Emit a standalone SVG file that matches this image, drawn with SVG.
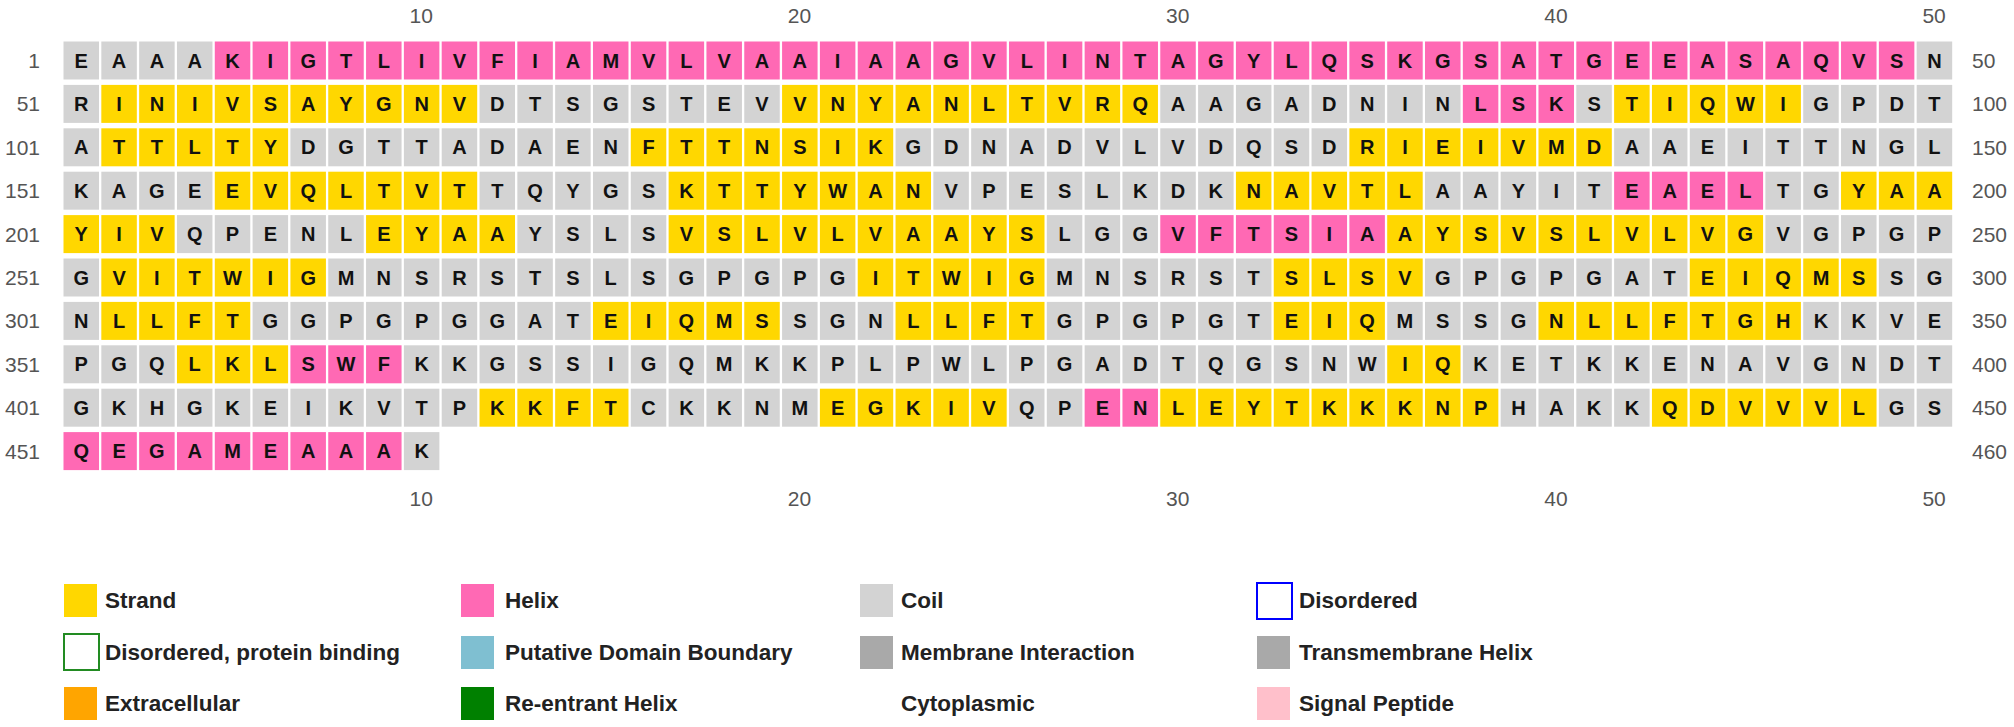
<svg xmlns="http://www.w3.org/2000/svg" width="2014" height="727" viewBox="0 0 2014 727">
<style>
.k text{font-family:"Liberation Sans",Arial,sans-serif;font-weight:bold;font-size:20px;text-anchor:middle;fill:#111}
.s rect{fill:#FFD700}
.h rect{fill:#FF69B4}
.c rect{fill:#D3D3D3}
.num{font-family:"Liberation Sans",Arial,sans-serif;font-size:21px;fill:#555}
.ax{text-anchor:middle}
.rl{text-anchor:end}
.lg{font-family:"Liberation Sans",Arial,sans-serif;font-weight:bold;font-size:22.5px;fill:#222}
</style>
<rect width="2014" height="727" fill="#fff"/>
<g id="top-axis" class="num ax">
<text x="421.3" y="23">10</text><text x="799.5" y="23">20</text><text x="1177.7" y="23">30</text><text x="1555.9" y="23">40</text><text x="1934.1" y="23">50</text>
</g>
<g id="bottom-axis" class="num ax">
<text x="421.3" y="506">10</text><text x="799.5" y="506">20</text><text x="1177.7" y="506">30</text><text x="1555.9" y="506">40</text><text x="1934.1" y="506">50</text>
</g>
<g id="row-labels-left" class="num rl">
<text x="40" y="68">1</text><text x="40" y="111.4">51</text><text x="40" y="154.8">101</text><text x="40" y="198.2">151</text><text x="40" y="241.6">201</text><text x="40" y="285">251</text><text x="40" y="328.4">301</text><text x="40" y="371.8">351</text><text x="40" y="415.2">401</text><text x="40" y="458.6">451</text>
</g>
<g id="row-labels-right" class="num">
<text x="1972" y="68">50</text><text x="1972" y="111.4">100</text><text x="1972" y="154.8">150</text><text x="1972" y="198.2">200</text><text x="1972" y="241.6">250</text><text x="1972" y="285">300</text><text x="1972" y="328.4">350</text><text x="1972" y="371.8">400</text><text x="1972" y="415.2">450</text><text x="1972" y="458.6">460</text>
</g>
<g id="connectors"></g>
<g id="row1" class="k" transform="translate(0,41.5)">
<g id="aa1" class="c" transform="translate(63.5)"><rect width="35.5" height="38"/><text x="17.75" y="26">E</text></g>
<g id="aa2" class="c" transform="translate(101.32)"><rect width="35.5" height="38"/><text x="17.75" y="26">A</text></g>
<g id="aa3" class="c" transform="translate(139.14)"><rect width="35.5" height="38"/><text x="17.75" y="26">A</text></g>
<g id="aa4" class="c" transform="translate(176.96)"><rect width="35.5" height="38"/><text x="17.75" y="26">A</text></g>
<g id="aa5" class="h" transform="translate(214.78)"><rect width="35.5" height="38"/><text x="17.75" y="26">K</text></g>
<g id="aa6" class="h" transform="translate(252.6)"><rect width="35.5" height="38"/><text x="17.75" y="26">I</text></g>
<g id="aa7" class="h" transform="translate(290.42)"><rect width="35.5" height="38"/><text x="17.75" y="26">G</text></g>
<g id="aa8" class="h" transform="translate(328.24)"><rect width="35.5" height="38"/><text x="17.75" y="26">T</text></g>
<g id="aa9" class="h" transform="translate(366.06)"><rect width="35.5" height="38"/><text x="17.75" y="26">L</text></g>
<g id="aa10" class="h" transform="translate(403.88)"><rect width="35.5" height="38"/><text x="17.75" y="26">I</text></g>
<g id="aa11" class="h" transform="translate(441.7)"><rect width="35.5" height="38"/><text x="17.75" y="26">V</text></g>
<g id="aa12" class="h" transform="translate(479.52)"><rect width="35.5" height="38"/><text x="17.75" y="26">F</text></g>
<g id="aa13" class="h" transform="translate(517.34)"><rect width="35.5" height="38"/><text x="17.75" y="26">I</text></g>
<g id="aa14" class="h" transform="translate(555.16)"><rect width="35.5" height="38"/><text x="17.75" y="26">A</text></g>
<g id="aa15" class="h" transform="translate(592.98)"><rect width="35.5" height="38"/><text x="17.75" y="26">M</text></g>
<g id="aa16" class="h" transform="translate(630.8)"><rect width="35.5" height="38"/><text x="17.75" y="26">V</text></g>
<g id="aa17" class="h" transform="translate(668.62)"><rect width="35.5" height="38"/><text x="17.75" y="26">L</text></g>
<g id="aa18" class="h" transform="translate(706.44)"><rect width="35.5" height="38"/><text x="17.75" y="26">V</text></g>
<g id="aa19" class="h" transform="translate(744.26)"><rect width="35.5" height="38"/><text x="17.75" y="26">A</text></g>
<g id="aa20" class="h" transform="translate(782.08)"><rect width="35.5" height="38"/><text x="17.75" y="26">A</text></g>
<g id="aa21" class="h" transform="translate(819.9)"><rect width="35.5" height="38"/><text x="17.75" y="26">I</text></g>
<g id="aa22" class="h" transform="translate(857.72)"><rect width="35.5" height="38"/><text x="17.75" y="26">A</text></g>
<g id="aa23" class="h" transform="translate(895.54)"><rect width="35.5" height="38"/><text x="17.75" y="26">A</text></g>
<g id="aa24" class="h" transform="translate(933.36)"><rect width="35.5" height="38"/><text x="17.75" y="26">G</text></g>
<g id="aa25" class="h" transform="translate(971.18)"><rect width="35.5" height="38"/><text x="17.75" y="26">V</text></g>
<g id="aa26" class="h" transform="translate(1009)"><rect width="35.5" height="38"/><text x="17.75" y="26">L</text></g>
<g id="aa27" class="h" transform="translate(1046.82)"><rect width="35.5" height="38"/><text x="17.75" y="26">I</text></g>
<g id="aa28" class="h" transform="translate(1084.64)"><rect width="35.5" height="38"/><text x="17.75" y="26">N</text></g>
<g id="aa29" class="h" transform="translate(1122.46)"><rect width="35.5" height="38"/><text x="17.75" y="26">T</text></g>
<g id="aa30" class="h" transform="translate(1160.28)"><rect width="35.5" height="38"/><text x="17.75" y="26">A</text></g>
<g id="aa31" class="h" transform="translate(1198.1)"><rect width="35.5" height="38"/><text x="17.75" y="26">G</text></g>
<g id="aa32" class="h" transform="translate(1235.92)"><rect width="35.5" height="38"/><text x="17.75" y="26">Y</text></g>
<g id="aa33" class="h" transform="translate(1273.74)"><rect width="35.5" height="38"/><text x="17.75" y="26">L</text></g>
<g id="aa34" class="h" transform="translate(1311.56)"><rect width="35.5" height="38"/><text x="17.75" y="26">Q</text></g>
<g id="aa35" class="h" transform="translate(1349.38)"><rect width="35.5" height="38"/><text x="17.75" y="26">S</text></g>
<g id="aa36" class="h" transform="translate(1387.2)"><rect width="35.5" height="38"/><text x="17.75" y="26">K</text></g>
<g id="aa37" class="h" transform="translate(1425.02)"><rect width="35.5" height="38"/><text x="17.75" y="26">G</text></g>
<g id="aa38" class="h" transform="translate(1462.84)"><rect width="35.5" height="38"/><text x="17.75" y="26">S</text></g>
<g id="aa39" class="h" transform="translate(1500.66)"><rect width="35.5" height="38"/><text x="17.75" y="26">A</text></g>
<g id="aa40" class="h" transform="translate(1538.48)"><rect width="35.5" height="38"/><text x="17.75" y="26">T</text></g>
<g id="aa41" class="h" transform="translate(1576.3)"><rect width="35.5" height="38"/><text x="17.75" y="26">G</text></g>
<g id="aa42" class="h" transform="translate(1614.12)"><rect width="35.5" height="38"/><text x="17.75" y="26">E</text></g>
<g id="aa43" class="h" transform="translate(1651.94)"><rect width="35.5" height="38"/><text x="17.75" y="26">E</text></g>
<g id="aa44" class="h" transform="translate(1689.76)"><rect width="35.5" height="38"/><text x="17.75" y="26">A</text></g>
<g id="aa45" class="h" transform="translate(1727.58)"><rect width="35.5" height="38"/><text x="17.75" y="26">S</text></g>
<g id="aa46" class="h" transform="translate(1765.4)"><rect width="35.5" height="38"/><text x="17.75" y="26">A</text></g>
<g id="aa47" class="h" transform="translate(1803.22)"><rect width="35.5" height="38"/><text x="17.75" y="26">Q</text></g>
<g id="aa48" class="h" transform="translate(1841.04)"><rect width="35.5" height="38"/><text x="17.75" y="26">V</text></g>
<g id="aa49" class="h" transform="translate(1878.86)"><rect width="35.5" height="38"/><text x="17.75" y="26">S</text></g>
<g id="aa50" class="c" transform="translate(1916.68)"><rect width="35.5" height="38"/><text x="17.75" y="26">N</text></g>
</g>
<g id="row2" class="k" transform="translate(0,84.9)">
<g id="aa51" class="c" transform="translate(63.5)"><rect width="35.5" height="38"/><text x="17.75" y="26">R</text></g>
<g id="aa52" class="s" transform="translate(101.32)"><rect width="35.5" height="38"/><text x="17.75" y="26">I</text></g>
<g id="aa53" class="s" transform="translate(139.14)"><rect width="35.5" height="38"/><text x="17.75" y="26">N</text></g>
<g id="aa54" class="s" transform="translate(176.96)"><rect width="35.5" height="38"/><text x="17.75" y="26">I</text></g>
<g id="aa55" class="s" transform="translate(214.78)"><rect width="35.5" height="38"/><text x="17.75" y="26">V</text></g>
<g id="aa56" class="s" transform="translate(252.6)"><rect width="35.5" height="38"/><text x="17.75" y="26">S</text></g>
<g id="aa57" class="s" transform="translate(290.42)"><rect width="35.5" height="38"/><text x="17.75" y="26">A</text></g>
<g id="aa58" class="s" transform="translate(328.24)"><rect width="35.5" height="38"/><text x="17.75" y="26">Y</text></g>
<g id="aa59" class="s" transform="translate(366.06)"><rect width="35.5" height="38"/><text x="17.75" y="26">G</text></g>
<g id="aa60" class="s" transform="translate(403.88)"><rect width="35.5" height="38"/><text x="17.75" y="26">N</text></g>
<g id="aa61" class="s" transform="translate(441.7)"><rect width="35.5" height="38"/><text x="17.75" y="26">V</text></g>
<g id="aa62" class="c" transform="translate(479.52)"><rect width="35.5" height="38"/><text x="17.75" y="26">D</text></g>
<g id="aa63" class="c" transform="translate(517.34)"><rect width="35.5" height="38"/><text x="17.75" y="26">T</text></g>
<g id="aa64" class="c" transform="translate(555.16)"><rect width="35.5" height="38"/><text x="17.75" y="26">S</text></g>
<g id="aa65" class="c" transform="translate(592.98)"><rect width="35.5" height="38"/><text x="17.75" y="26">G</text></g>
<g id="aa66" class="c" transform="translate(630.8)"><rect width="35.5" height="38"/><text x="17.75" y="26">S</text></g>
<g id="aa67" class="c" transform="translate(668.62)"><rect width="35.5" height="38"/><text x="17.75" y="26">T</text></g>
<g id="aa68" class="c" transform="translate(706.44)"><rect width="35.5" height="38"/><text x="17.75" y="26">E</text></g>
<g id="aa69" class="c" transform="translate(744.26)"><rect width="35.5" height="38"/><text x="17.75" y="26">V</text></g>
<g id="aa70" class="s" transform="translate(782.08)"><rect width="35.5" height="38"/><text x="17.75" y="26">V</text></g>
<g id="aa71" class="s" transform="translate(819.9)"><rect width="35.5" height="38"/><text x="17.75" y="26">N</text></g>
<g id="aa72" class="s" transform="translate(857.72)"><rect width="35.5" height="38"/><text x="17.75" y="26">Y</text></g>
<g id="aa73" class="s" transform="translate(895.54)"><rect width="35.5" height="38"/><text x="17.75" y="26">A</text></g>
<g id="aa74" class="s" transform="translate(933.36)"><rect width="35.5" height="38"/><text x="17.75" y="26">N</text></g>
<g id="aa75" class="s" transform="translate(971.18)"><rect width="35.5" height="38"/><text x="17.75" y="26">L</text></g>
<g id="aa76" class="s" transform="translate(1009)"><rect width="35.5" height="38"/><text x="17.75" y="26">T</text></g>
<g id="aa77" class="s" transform="translate(1046.82)"><rect width="35.5" height="38"/><text x="17.75" y="26">V</text></g>
<g id="aa78" class="s" transform="translate(1084.64)"><rect width="35.5" height="38"/><text x="17.75" y="26">R</text></g>
<g id="aa79" class="s" transform="translate(1122.46)"><rect width="35.5" height="38"/><text x="17.75" y="26">Q</text></g>
<g id="aa80" class="c" transform="translate(1160.28)"><rect width="35.5" height="38"/><text x="17.75" y="26">A</text></g>
<g id="aa81" class="c" transform="translate(1198.1)"><rect width="35.5" height="38"/><text x="17.75" y="26">A</text></g>
<g id="aa82" class="c" transform="translate(1235.92)"><rect width="35.5" height="38"/><text x="17.75" y="26">G</text></g>
<g id="aa83" class="c" transform="translate(1273.74)"><rect width="35.5" height="38"/><text x="17.75" y="26">A</text></g>
<g id="aa84" class="c" transform="translate(1311.56)"><rect width="35.5" height="38"/><text x="17.75" y="26">D</text></g>
<g id="aa85" class="c" transform="translate(1349.38)"><rect width="35.5" height="38"/><text x="17.75" y="26">N</text></g>
<g id="aa86" class="c" transform="translate(1387.2)"><rect width="35.5" height="38"/><text x="17.75" y="26">I</text></g>
<g id="aa87" class="c" transform="translate(1425.02)"><rect width="35.5" height="38"/><text x="17.75" y="26">N</text></g>
<g id="aa88" class="h" transform="translate(1462.84)"><rect width="35.5" height="38"/><text x="17.75" y="26">L</text></g>
<g id="aa89" class="h" transform="translate(1500.66)"><rect width="35.5" height="38"/><text x="17.75" y="26">S</text></g>
<g id="aa90" class="h" transform="translate(1538.48)"><rect width="35.5" height="38"/><text x="17.75" y="26">K</text></g>
<g id="aa91" class="c" transform="translate(1576.3)"><rect width="35.5" height="38"/><text x="17.75" y="26">S</text></g>
<g id="aa92" class="s" transform="translate(1614.12)"><rect width="35.5" height="38"/><text x="17.75" y="26">T</text></g>
<g id="aa93" class="s" transform="translate(1651.94)"><rect width="35.5" height="38"/><text x="17.75" y="26">I</text></g>
<g id="aa94" class="s" transform="translate(1689.76)"><rect width="35.5" height="38"/><text x="17.75" y="26">Q</text></g>
<g id="aa95" class="s" transform="translate(1727.58)"><rect width="35.5" height="38"/><text x="17.75" y="26">W</text></g>
<g id="aa96" class="s" transform="translate(1765.4)"><rect width="35.5" height="38"/><text x="17.75" y="26">I</text></g>
<g id="aa97" class="c" transform="translate(1803.22)"><rect width="35.5" height="38"/><text x="17.75" y="26">G</text></g>
<g id="aa98" class="c" transform="translate(1841.04)"><rect width="35.5" height="38"/><text x="17.75" y="26">P</text></g>
<g id="aa99" class="c" transform="translate(1878.86)"><rect width="35.5" height="38"/><text x="17.75" y="26">D</text></g>
<g id="aa100" class="c" transform="translate(1916.68)"><rect width="35.5" height="38"/><text x="17.75" y="26">T</text></g>
</g>
<g id="row3" class="k" transform="translate(0,128.3)">
<g id="aa101" class="c" transform="translate(63.5)"><rect width="35.5" height="38"/><text x="17.75" y="26">A</text></g>
<g id="aa102" class="s" transform="translate(101.32)"><rect width="35.5" height="38"/><text x="17.75" y="26">T</text></g>
<g id="aa103" class="s" transform="translate(139.14)"><rect width="35.5" height="38"/><text x="17.75" y="26">T</text></g>
<g id="aa104" class="s" transform="translate(176.96)"><rect width="35.5" height="38"/><text x="17.75" y="26">L</text></g>
<g id="aa105" class="s" transform="translate(214.78)"><rect width="35.5" height="38"/><text x="17.75" y="26">T</text></g>
<g id="aa106" class="s" transform="translate(252.6)"><rect width="35.5" height="38"/><text x="17.75" y="26">Y</text></g>
<g id="aa107" class="c" transform="translate(290.42)"><rect width="35.5" height="38"/><text x="17.75" y="26">D</text></g>
<g id="aa108" class="c" transform="translate(328.24)"><rect width="35.5" height="38"/><text x="17.75" y="26">G</text></g>
<g id="aa109" class="c" transform="translate(366.06)"><rect width="35.5" height="38"/><text x="17.75" y="26">T</text></g>
<g id="aa110" class="c" transform="translate(403.88)"><rect width="35.5" height="38"/><text x="17.75" y="26">T</text></g>
<g id="aa111" class="c" transform="translate(441.7)"><rect width="35.5" height="38"/><text x="17.75" y="26">A</text></g>
<g id="aa112" class="c" transform="translate(479.52)"><rect width="35.5" height="38"/><text x="17.75" y="26">D</text></g>
<g id="aa113" class="c" transform="translate(517.34)"><rect width="35.5" height="38"/><text x="17.75" y="26">A</text></g>
<g id="aa114" class="c" transform="translate(555.16)"><rect width="35.5" height="38"/><text x="17.75" y="26">E</text></g>
<g id="aa115" class="c" transform="translate(592.98)"><rect width="35.5" height="38"/><text x="17.75" y="26">N</text></g>
<g id="aa116" class="s" transform="translate(630.8)"><rect width="35.5" height="38"/><text x="17.75" y="26">F</text></g>
<g id="aa117" class="s" transform="translate(668.62)"><rect width="35.5" height="38"/><text x="17.75" y="26">T</text></g>
<g id="aa118" class="s" transform="translate(706.44)"><rect width="35.5" height="38"/><text x="17.75" y="26">T</text></g>
<g id="aa119" class="s" transform="translate(744.26)"><rect width="35.5" height="38"/><text x="17.75" y="26">N</text></g>
<g id="aa120" class="s" transform="translate(782.08)"><rect width="35.5" height="38"/><text x="17.75" y="26">S</text></g>
<g id="aa121" class="s" transform="translate(819.9)"><rect width="35.5" height="38"/><text x="17.75" y="26">I</text></g>
<g id="aa122" class="s" transform="translate(857.72)"><rect width="35.5" height="38"/><text x="17.75" y="26">K</text></g>
<g id="aa123" class="c" transform="translate(895.54)"><rect width="35.5" height="38"/><text x="17.75" y="26">G</text></g>
<g id="aa124" class="c" transform="translate(933.36)"><rect width="35.5" height="38"/><text x="17.75" y="26">D</text></g>
<g id="aa125" class="c" transform="translate(971.18)"><rect width="35.5" height="38"/><text x="17.75" y="26">N</text></g>
<g id="aa126" class="c" transform="translate(1009)"><rect width="35.5" height="38"/><text x="17.75" y="26">A</text></g>
<g id="aa127" class="c" transform="translate(1046.82)"><rect width="35.5" height="38"/><text x="17.75" y="26">D</text></g>
<g id="aa128" class="c" transform="translate(1084.64)"><rect width="35.5" height="38"/><text x="17.75" y="26">V</text></g>
<g id="aa129" class="c" transform="translate(1122.46)"><rect width="35.5" height="38"/><text x="17.75" y="26">L</text></g>
<g id="aa130" class="c" transform="translate(1160.28)"><rect width="35.5" height="38"/><text x="17.75" y="26">V</text></g>
<g id="aa131" class="c" transform="translate(1198.1)"><rect width="35.5" height="38"/><text x="17.75" y="26">D</text></g>
<g id="aa132" class="c" transform="translate(1235.92)"><rect width="35.5" height="38"/><text x="17.75" y="26">Q</text></g>
<g id="aa133" class="c" transform="translate(1273.74)"><rect width="35.5" height="38"/><text x="17.75" y="26">S</text></g>
<g id="aa134" class="c" transform="translate(1311.56)"><rect width="35.5" height="38"/><text x="17.75" y="26">D</text></g>
<g id="aa135" class="s" transform="translate(1349.38)"><rect width="35.5" height="38"/><text x="17.75" y="26">R</text></g>
<g id="aa136" class="s" transform="translate(1387.2)"><rect width="35.5" height="38"/><text x="17.75" y="26">I</text></g>
<g id="aa137" class="s" transform="translate(1425.02)"><rect width="35.5" height="38"/><text x="17.75" y="26">E</text></g>
<g id="aa138" class="s" transform="translate(1462.84)"><rect width="35.5" height="38"/><text x="17.75" y="26">I</text></g>
<g id="aa139" class="s" transform="translate(1500.66)"><rect width="35.5" height="38"/><text x="17.75" y="26">V</text></g>
<g id="aa140" class="s" transform="translate(1538.48)"><rect width="35.5" height="38"/><text x="17.75" y="26">M</text></g>
<g id="aa141" class="s" transform="translate(1576.3)"><rect width="35.5" height="38"/><text x="17.75" y="26">D</text></g>
<g id="aa142" class="c" transform="translate(1614.12)"><rect width="35.5" height="38"/><text x="17.75" y="26">A</text></g>
<g id="aa143" class="c" transform="translate(1651.94)"><rect width="35.5" height="38"/><text x="17.75" y="26">A</text></g>
<g id="aa144" class="c" transform="translate(1689.76)"><rect width="35.5" height="38"/><text x="17.75" y="26">E</text></g>
<g id="aa145" class="c" transform="translate(1727.58)"><rect width="35.5" height="38"/><text x="17.75" y="26">I</text></g>
<g id="aa146" class="c" transform="translate(1765.4)"><rect width="35.5" height="38"/><text x="17.75" y="26">T</text></g>
<g id="aa147" class="c" transform="translate(1803.22)"><rect width="35.5" height="38"/><text x="17.75" y="26">T</text></g>
<g id="aa148" class="c" transform="translate(1841.04)"><rect width="35.5" height="38"/><text x="17.75" y="26">N</text></g>
<g id="aa149" class="c" transform="translate(1878.86)"><rect width="35.5" height="38"/><text x="17.75" y="26">G</text></g>
<g id="aa150" class="c" transform="translate(1916.68)"><rect width="35.5" height="38"/><text x="17.75" y="26">L</text></g>
</g>
<g id="row4" class="k" transform="translate(0,171.7)">
<g id="aa151" class="c" transform="translate(63.5)"><rect width="35.5" height="38"/><text x="17.75" y="26">K</text></g>
<g id="aa152" class="c" transform="translate(101.32)"><rect width="35.5" height="38"/><text x="17.75" y="26">A</text></g>
<g id="aa153" class="c" transform="translate(139.14)"><rect width="35.5" height="38"/><text x="17.75" y="26">G</text></g>
<g id="aa154" class="c" transform="translate(176.96)"><rect width="35.5" height="38"/><text x="17.75" y="26">E</text></g>
<g id="aa155" class="s" transform="translate(214.78)"><rect width="35.5" height="38"/><text x="17.75" y="26">E</text></g>
<g id="aa156" class="s" transform="translate(252.6)"><rect width="35.5" height="38"/><text x="17.75" y="26">V</text></g>
<g id="aa157" class="s" transform="translate(290.42)"><rect width="35.5" height="38"/><text x="17.75" y="26">Q</text></g>
<g id="aa158" class="s" transform="translate(328.24)"><rect width="35.5" height="38"/><text x="17.75" y="26">L</text></g>
<g id="aa159" class="s" transform="translate(366.06)"><rect width="35.5" height="38"/><text x="17.75" y="26">T</text></g>
<g id="aa160" class="s" transform="translate(403.88)"><rect width="35.5" height="38"/><text x="17.75" y="26">V</text></g>
<g id="aa161" class="s" transform="translate(441.7)"><rect width="35.5" height="38"/><text x="17.75" y="26">T</text></g>
<g id="aa162" class="c" transform="translate(479.52)"><rect width="35.5" height="38"/><text x="17.75" y="26">T</text></g>
<g id="aa163" class="c" transform="translate(517.34)"><rect width="35.5" height="38"/><text x="17.75" y="26">Q</text></g>
<g id="aa164" class="c" transform="translate(555.16)"><rect width="35.5" height="38"/><text x="17.75" y="26">Y</text></g>
<g id="aa165" class="c" transform="translate(592.98)"><rect width="35.5" height="38"/><text x="17.75" y="26">G</text></g>
<g id="aa166" class="c" transform="translate(630.8)"><rect width="35.5" height="38"/><text x="17.75" y="26">S</text></g>
<g id="aa167" class="s" transform="translate(668.62)"><rect width="35.5" height="38"/><text x="17.75" y="26">K</text></g>
<g id="aa168" class="s" transform="translate(706.44)"><rect width="35.5" height="38"/><text x="17.75" y="26">T</text></g>
<g id="aa169" class="s" transform="translate(744.26)"><rect width="35.5" height="38"/><text x="17.75" y="26">T</text></g>
<g id="aa170" class="s" transform="translate(782.08)"><rect width="35.5" height="38"/><text x="17.75" y="26">Y</text></g>
<g id="aa171" class="s" transform="translate(819.9)"><rect width="35.5" height="38"/><text x="17.75" y="26">W</text></g>
<g id="aa172" class="s" transform="translate(857.72)"><rect width="35.5" height="38"/><text x="17.75" y="26">A</text></g>
<g id="aa173" class="s" transform="translate(895.54)"><rect width="35.5" height="38"/><text x="17.75" y="26">N</text></g>
<g id="aa174" class="c" transform="translate(933.36)"><rect width="35.5" height="38"/><text x="17.75" y="26">V</text></g>
<g id="aa175" class="c" transform="translate(971.18)"><rect width="35.5" height="38"/><text x="17.75" y="26">P</text></g>
<g id="aa176" class="c" transform="translate(1009)"><rect width="35.5" height="38"/><text x="17.75" y="26">E</text></g>
<g id="aa177" class="c" transform="translate(1046.82)"><rect width="35.5" height="38"/><text x="17.75" y="26">S</text></g>
<g id="aa178" class="c" transform="translate(1084.64)"><rect width="35.5" height="38"/><text x="17.75" y="26">L</text></g>
<g id="aa179" class="c" transform="translate(1122.46)"><rect width="35.5" height="38"/><text x="17.75" y="26">K</text></g>
<g id="aa180" class="c" transform="translate(1160.28)"><rect width="35.5" height="38"/><text x="17.75" y="26">D</text></g>
<g id="aa181" class="c" transform="translate(1198.1)"><rect width="35.5" height="38"/><text x="17.75" y="26">K</text></g>
<g id="aa182" class="s" transform="translate(1235.92)"><rect width="35.5" height="38"/><text x="17.75" y="26">N</text></g>
<g id="aa183" class="s" transform="translate(1273.74)"><rect width="35.5" height="38"/><text x="17.75" y="26">A</text></g>
<g id="aa184" class="s" transform="translate(1311.56)"><rect width="35.5" height="38"/><text x="17.75" y="26">V</text></g>
<g id="aa185" class="s" transform="translate(1349.38)"><rect width="35.5" height="38"/><text x="17.75" y="26">T</text></g>
<g id="aa186" class="s" transform="translate(1387.2)"><rect width="35.5" height="38"/><text x="17.75" y="26">L</text></g>
<g id="aa187" class="c" transform="translate(1425.02)"><rect width="35.5" height="38"/><text x="17.75" y="26">A</text></g>
<g id="aa188" class="c" transform="translate(1462.84)"><rect width="35.5" height="38"/><text x="17.75" y="26">A</text></g>
<g id="aa189" class="c" transform="translate(1500.66)"><rect width="35.5" height="38"/><text x="17.75" y="26">Y</text></g>
<g id="aa190" class="c" transform="translate(1538.48)"><rect width="35.5" height="38"/><text x="17.75" y="26">I</text></g>
<g id="aa191" class="c" transform="translate(1576.3)"><rect width="35.5" height="38"/><text x="17.75" y="26">T</text></g>
<g id="aa192" class="h" transform="translate(1614.12)"><rect width="35.5" height="38"/><text x="17.75" y="26">E</text></g>
<g id="aa193" class="h" transform="translate(1651.94)"><rect width="35.5" height="38"/><text x="17.75" y="26">A</text></g>
<g id="aa194" class="h" transform="translate(1689.76)"><rect width="35.5" height="38"/><text x="17.75" y="26">E</text></g>
<g id="aa195" class="h" transform="translate(1727.58)"><rect width="35.5" height="38"/><text x="17.75" y="26">L</text></g>
<g id="aa196" class="c" transform="translate(1765.4)"><rect width="35.5" height="38"/><text x="17.75" y="26">T</text></g>
<g id="aa197" class="c" transform="translate(1803.22)"><rect width="35.5" height="38"/><text x="17.75" y="26">G</text></g>
<g id="aa198" class="s" transform="translate(1841.04)"><rect width="35.5" height="38"/><text x="17.75" y="26">Y</text></g>
<g id="aa199" class="s" transform="translate(1878.86)"><rect width="35.5" height="38"/><text x="17.75" y="26">A</text></g>
<g id="aa200" class="s" transform="translate(1916.68)"><rect width="35.5" height="38"/><text x="17.75" y="26">A</text></g>
</g>
<g id="row5" class="k" transform="translate(0,215.1)">
<g id="aa201" class="s" transform="translate(63.5)"><rect width="35.5" height="38"/><text x="17.75" y="26">Y</text></g>
<g id="aa202" class="s" transform="translate(101.32)"><rect width="35.5" height="38"/><text x="17.75" y="26">I</text></g>
<g id="aa203" class="s" transform="translate(139.14)"><rect width="35.5" height="38"/><text x="17.75" y="26">V</text></g>
<g id="aa204" class="c" transform="translate(176.96)"><rect width="35.5" height="38"/><text x="17.75" y="26">Q</text></g>
<g id="aa205" class="c" transform="translate(214.78)"><rect width="35.5" height="38"/><text x="17.75" y="26">P</text></g>
<g id="aa206" class="c" transform="translate(252.6)"><rect width="35.5" height="38"/><text x="17.75" y="26">E</text></g>
<g id="aa207" class="c" transform="translate(290.42)"><rect width="35.5" height="38"/><text x="17.75" y="26">N</text></g>
<g id="aa208" class="c" transform="translate(328.24)"><rect width="35.5" height="38"/><text x="17.75" y="26">L</text></g>
<g id="aa209" class="s" transform="translate(366.06)"><rect width="35.5" height="38"/><text x="17.75" y="26">E</text></g>
<g id="aa210" class="s" transform="translate(403.88)"><rect width="35.5" height="38"/><text x="17.75" y="26">Y</text></g>
<g id="aa211" class="s" transform="translate(441.7)"><rect width="35.5" height="38"/><text x="17.75" y="26">A</text></g>
<g id="aa212" class="s" transform="translate(479.52)"><rect width="35.5" height="38"/><text x="17.75" y="26">A</text></g>
<g id="aa213" class="c" transform="translate(517.34)"><rect width="35.5" height="38"/><text x="17.75" y="26">Y</text></g>
<g id="aa214" class="c" transform="translate(555.16)"><rect width="35.5" height="38"/><text x="17.75" y="26">S</text></g>
<g id="aa215" class="c" transform="translate(592.98)"><rect width="35.5" height="38"/><text x="17.75" y="26">L</text></g>
<g id="aa216" class="c" transform="translate(630.8)"><rect width="35.5" height="38"/><text x="17.75" y="26">S</text></g>
<g id="aa217" class="s" transform="translate(668.62)"><rect width="35.5" height="38"/><text x="17.75" y="26">V</text></g>
<g id="aa218" class="s" transform="translate(706.44)"><rect width="35.5" height="38"/><text x="17.75" y="26">S</text></g>
<g id="aa219" class="s" transform="translate(744.26)"><rect width="35.5" height="38"/><text x="17.75" y="26">L</text></g>
<g id="aa220" class="s" transform="translate(782.08)"><rect width="35.5" height="38"/><text x="17.75" y="26">V</text></g>
<g id="aa221" class="s" transform="translate(819.9)"><rect width="35.5" height="38"/><text x="17.75" y="26">L</text></g>
<g id="aa222" class="s" transform="translate(857.72)"><rect width="35.5" height="38"/><text x="17.75" y="26">V</text></g>
<g id="aa223" class="s" transform="translate(895.54)"><rect width="35.5" height="38"/><text x="17.75" y="26">A</text></g>
<g id="aa224" class="s" transform="translate(933.36)"><rect width="35.5" height="38"/><text x="17.75" y="26">A</text></g>
<g id="aa225" class="s" transform="translate(971.18)"><rect width="35.5" height="38"/><text x="17.75" y="26">Y</text></g>
<g id="aa226" class="s" transform="translate(1009)"><rect width="35.5" height="38"/><text x="17.75" y="26">S</text></g>
<g id="aa227" class="c" transform="translate(1046.82)"><rect width="35.5" height="38"/><text x="17.75" y="26">L</text></g>
<g id="aa228" class="c" transform="translate(1084.64)"><rect width="35.5" height="38"/><text x="17.75" y="26">G</text></g>
<g id="aa229" class="c" transform="translate(1122.46)"><rect width="35.5" height="38"/><text x="17.75" y="26">G</text></g>
<g id="aa230" class="h" transform="translate(1160.28)"><rect width="35.5" height="38"/><text x="17.75" y="26">V</text></g>
<g id="aa231" class="h" transform="translate(1198.1)"><rect width="35.5" height="38"/><text x="17.75" y="26">F</text></g>
<g id="aa232" class="h" transform="translate(1235.92)"><rect width="35.5" height="38"/><text x="17.75" y="26">T</text></g>
<g id="aa233" class="h" transform="translate(1273.74)"><rect width="35.5" height="38"/><text x="17.75" y="26">S</text></g>
<g id="aa234" class="h" transform="translate(1311.56)"><rect width="35.5" height="38"/><text x="17.75" y="26">I</text></g>
<g id="aa235" class="h" transform="translate(1349.38)"><rect width="35.5" height="38"/><text x="17.75" y="26">A</text></g>
<g id="aa236" class="s" transform="translate(1387.2)"><rect width="35.5" height="38"/><text x="17.75" y="26">A</text></g>
<g id="aa237" class="s" transform="translate(1425.02)"><rect width="35.5" height="38"/><text x="17.75" y="26">Y</text></g>
<g id="aa238" class="s" transform="translate(1462.84)"><rect width="35.5" height="38"/><text x="17.75" y="26">S</text></g>
<g id="aa239" class="s" transform="translate(1500.66)"><rect width="35.5" height="38"/><text x="17.75" y="26">V</text></g>
<g id="aa240" class="s" transform="translate(1538.48)"><rect width="35.5" height="38"/><text x="17.75" y="26">S</text></g>
<g id="aa241" class="s" transform="translate(1576.3)"><rect width="35.5" height="38"/><text x="17.75" y="26">L</text></g>
<g id="aa242" class="s" transform="translate(1614.12)"><rect width="35.5" height="38"/><text x="17.75" y="26">V</text></g>
<g id="aa243" class="s" transform="translate(1651.94)"><rect width="35.5" height="38"/><text x="17.75" y="26">L</text></g>
<g id="aa244" class="s" transform="translate(1689.76)"><rect width="35.5" height="38"/><text x="17.75" y="26">V</text></g>
<g id="aa245" class="s" transform="translate(1727.58)"><rect width="35.5" height="38"/><text x="17.75" y="26">G</text></g>
<g id="aa246" class="c" transform="translate(1765.4)"><rect width="35.5" height="38"/><text x="17.75" y="26">V</text></g>
<g id="aa247" class="c" transform="translate(1803.22)"><rect width="35.5" height="38"/><text x="17.75" y="26">G</text></g>
<g id="aa248" class="c" transform="translate(1841.04)"><rect width="35.5" height="38"/><text x="17.75" y="26">P</text></g>
<g id="aa249" class="c" transform="translate(1878.86)"><rect width="35.5" height="38"/><text x="17.75" y="26">G</text></g>
<g id="aa250" class="c" transform="translate(1916.68)"><rect width="35.5" height="38"/><text x="17.75" y="26">P</text></g>
</g>
<g id="row6" class="k" transform="translate(0,258.5)">
<g id="aa251" class="c" transform="translate(63.5)"><rect width="35.5" height="38"/><text x="17.75" y="26">G</text></g>
<g id="aa252" class="s" transform="translate(101.32)"><rect width="35.5" height="38"/><text x="17.75" y="26">V</text></g>
<g id="aa253" class="s" transform="translate(139.14)"><rect width="35.5" height="38"/><text x="17.75" y="26">I</text></g>
<g id="aa254" class="s" transform="translate(176.96)"><rect width="35.5" height="38"/><text x="17.75" y="26">T</text></g>
<g id="aa255" class="s" transform="translate(214.78)"><rect width="35.5" height="38"/><text x="17.75" y="26">W</text></g>
<g id="aa256" class="s" transform="translate(252.6)"><rect width="35.5" height="38"/><text x="17.75" y="26">I</text></g>
<g id="aa257" class="s" transform="translate(290.42)"><rect width="35.5" height="38"/><text x="17.75" y="26">G</text></g>
<g id="aa258" class="c" transform="translate(328.24)"><rect width="35.5" height="38"/><text x="17.75" y="26">M</text></g>
<g id="aa259" class="c" transform="translate(366.06)"><rect width="35.5" height="38"/><text x="17.75" y="26">N</text></g>
<g id="aa260" class="c" transform="translate(403.88)"><rect width="35.5" height="38"/><text x="17.75" y="26">S</text></g>
<g id="aa261" class="c" transform="translate(441.7)"><rect width="35.5" height="38"/><text x="17.75" y="26">R</text></g>
<g id="aa262" class="c" transform="translate(479.52)"><rect width="35.5" height="38"/><text x="17.75" y="26">S</text></g>
<g id="aa263" class="c" transform="translate(517.34)"><rect width="35.5" height="38"/><text x="17.75" y="26">T</text></g>
<g id="aa264" class="c" transform="translate(555.16)"><rect width="35.5" height="38"/><text x="17.75" y="26">S</text></g>
<g id="aa265" class="c" transform="translate(592.98)"><rect width="35.5" height="38"/><text x="17.75" y="26">L</text></g>
<g id="aa266" class="c" transform="translate(630.8)"><rect width="35.5" height="38"/><text x="17.75" y="26">S</text></g>
<g id="aa267" class="c" transform="translate(668.62)"><rect width="35.5" height="38"/><text x="17.75" y="26">G</text></g>
<g id="aa268" class="c" transform="translate(706.44)"><rect width="35.5" height="38"/><text x="17.75" y="26">P</text></g>
<g id="aa269" class="c" transform="translate(744.26)"><rect width="35.5" height="38"/><text x="17.75" y="26">G</text></g>
<g id="aa270" class="c" transform="translate(782.08)"><rect width="35.5" height="38"/><text x="17.75" y="26">P</text></g>
<g id="aa271" class="c" transform="translate(819.9)"><rect width="35.5" height="38"/><text x="17.75" y="26">G</text></g>
<g id="aa272" class="s" transform="translate(857.72)"><rect width="35.5" height="38"/><text x="17.75" y="26">I</text></g>
<g id="aa273" class="s" transform="translate(895.54)"><rect width="35.5" height="38"/><text x="17.75" y="26">T</text></g>
<g id="aa274" class="s" transform="translate(933.36)"><rect width="35.5" height="38"/><text x="17.75" y="26">W</text></g>
<g id="aa275" class="s" transform="translate(971.18)"><rect width="35.5" height="38"/><text x="17.75" y="26">I</text></g>
<g id="aa276" class="s" transform="translate(1009)"><rect width="35.5" height="38"/><text x="17.75" y="26">G</text></g>
<g id="aa277" class="c" transform="translate(1046.82)"><rect width="35.5" height="38"/><text x="17.75" y="26">M</text></g>
<g id="aa278" class="c" transform="translate(1084.64)"><rect width="35.5" height="38"/><text x="17.75" y="26">N</text></g>
<g id="aa279" class="c" transform="translate(1122.46)"><rect width="35.5" height="38"/><text x="17.75" y="26">S</text></g>
<g id="aa280" class="c" transform="translate(1160.28)"><rect width="35.5" height="38"/><text x="17.75" y="26">R</text></g>
<g id="aa281" class="c" transform="translate(1198.1)"><rect width="35.5" height="38"/><text x="17.75" y="26">S</text></g>
<g id="aa282" class="c" transform="translate(1235.92)"><rect width="35.5" height="38"/><text x="17.75" y="26">T</text></g>
<g id="aa283" class="s" transform="translate(1273.74)"><rect width="35.5" height="38"/><text x="17.75" y="26">S</text></g>
<g id="aa284" class="s" transform="translate(1311.56)"><rect width="35.5" height="38"/><text x="17.75" y="26">L</text></g>
<g id="aa285" class="s" transform="translate(1349.38)"><rect width="35.5" height="38"/><text x="17.75" y="26">S</text></g>
<g id="aa286" class="s" transform="translate(1387.2)"><rect width="35.5" height="38"/><text x="17.75" y="26">V</text></g>
<g id="aa287" class="c" transform="translate(1425.02)"><rect width="35.5" height="38"/><text x="17.75" y="26">G</text></g>
<g id="aa288" class="c" transform="translate(1462.84)"><rect width="35.5" height="38"/><text x="17.75" y="26">P</text></g>
<g id="aa289" class="c" transform="translate(1500.66)"><rect width="35.5" height="38"/><text x="17.75" y="26">G</text></g>
<g id="aa290" class="c" transform="translate(1538.48)"><rect width="35.5" height="38"/><text x="17.75" y="26">P</text></g>
<g id="aa291" class="c" transform="translate(1576.3)"><rect width="35.5" height="38"/><text x="17.75" y="26">G</text></g>
<g id="aa292" class="c" transform="translate(1614.12)"><rect width="35.5" height="38"/><text x="17.75" y="26">A</text></g>
<g id="aa293" class="c" transform="translate(1651.94)"><rect width="35.5" height="38"/><text x="17.75" y="26">T</text></g>
<g id="aa294" class="s" transform="translate(1689.76)"><rect width="35.5" height="38"/><text x="17.75" y="26">E</text></g>
<g id="aa295" class="s" transform="translate(1727.58)"><rect width="35.5" height="38"/><text x="17.75" y="26">I</text></g>
<g id="aa296" class="s" transform="translate(1765.4)"><rect width="35.5" height="38"/><text x="17.75" y="26">Q</text></g>
<g id="aa297" class="s" transform="translate(1803.22)"><rect width="35.5" height="38"/><text x="17.75" y="26">M</text></g>
<g id="aa298" class="s" transform="translate(1841.04)"><rect width="35.5" height="38"/><text x="17.75" y="26">S</text></g>
<g id="aa299" class="c" transform="translate(1878.86)"><rect width="35.5" height="38"/><text x="17.75" y="26">S</text></g>
<g id="aa300" class="c" transform="translate(1916.68)"><rect width="35.5" height="38"/><text x="17.75" y="26">G</text></g>
</g>
<g id="row7" class="k" transform="translate(0,301.9)">
<g id="aa301" class="c" transform="translate(63.5)"><rect width="35.5" height="38"/><text x="17.75" y="26">N</text></g>
<g id="aa302" class="s" transform="translate(101.32)"><rect width="35.5" height="38"/><text x="17.75" y="26">L</text></g>
<g id="aa303" class="s" transform="translate(139.14)"><rect width="35.5" height="38"/><text x="17.75" y="26">L</text></g>
<g id="aa304" class="s" transform="translate(176.96)"><rect width="35.5" height="38"/><text x="17.75" y="26">F</text></g>
<g id="aa305" class="s" transform="translate(214.78)"><rect width="35.5" height="38"/><text x="17.75" y="26">T</text></g>
<g id="aa306" class="c" transform="translate(252.6)"><rect width="35.5" height="38"/><text x="17.75" y="26">G</text></g>
<g id="aa307" class="c" transform="translate(290.42)"><rect width="35.5" height="38"/><text x="17.75" y="26">G</text></g>
<g id="aa308" class="c" transform="translate(328.24)"><rect width="35.5" height="38"/><text x="17.75" y="26">P</text></g>
<g id="aa309" class="c" transform="translate(366.06)"><rect width="35.5" height="38"/><text x="17.75" y="26">G</text></g>
<g id="aa310" class="c" transform="translate(403.88)"><rect width="35.5" height="38"/><text x="17.75" y="26">P</text></g>
<g id="aa311" class="c" transform="translate(441.7)"><rect width="35.5" height="38"/><text x="17.75" y="26">G</text></g>
<g id="aa312" class="c" transform="translate(479.52)"><rect width="35.5" height="38"/><text x="17.75" y="26">G</text></g>
<g id="aa313" class="c" transform="translate(517.34)"><rect width="35.5" height="38"/><text x="17.75" y="26">A</text></g>
<g id="aa314" class="c" transform="translate(555.16)"><rect width="35.5" height="38"/><text x="17.75" y="26">T</text></g>
<g id="aa315" class="s" transform="translate(592.98)"><rect width="35.5" height="38"/><text x="17.75" y="26">E</text></g>
<g id="aa316" class="s" transform="translate(630.8)"><rect width="35.5" height="38"/><text x="17.75" y="26">I</text></g>
<g id="aa317" class="s" transform="translate(668.62)"><rect width="35.5" height="38"/><text x="17.75" y="26">Q</text></g>
<g id="aa318" class="s" transform="translate(706.44)"><rect width="35.5" height="38"/><text x="17.75" y="26">M</text></g>
<g id="aa319" class="s" transform="translate(744.26)"><rect width="35.5" height="38"/><text x="17.75" y="26">S</text></g>
<g id="aa320" class="c" transform="translate(782.08)"><rect width="35.5" height="38"/><text x="17.75" y="26">S</text></g>
<g id="aa321" class="c" transform="translate(819.9)"><rect width="35.5" height="38"/><text x="17.75" y="26">G</text></g>
<g id="aa322" class="c" transform="translate(857.72)"><rect width="35.5" height="38"/><text x="17.75" y="26">N</text></g>
<g id="aa323" class="s" transform="translate(895.54)"><rect width="35.5" height="38"/><text x="17.75" y="26">L</text></g>
<g id="aa324" class="s" transform="translate(933.36)"><rect width="35.5" height="38"/><text x="17.75" y="26">L</text></g>
<g id="aa325" class="s" transform="translate(971.18)"><rect width="35.5" height="38"/><text x="17.75" y="26">F</text></g>
<g id="aa326" class="s" transform="translate(1009)"><rect width="35.5" height="38"/><text x="17.75" y="26">T</text></g>
<g id="aa327" class="c" transform="translate(1046.82)"><rect width="35.5" height="38"/><text x="17.75" y="26">G</text></g>
<g id="aa328" class="c" transform="translate(1084.64)"><rect width="35.5" height="38"/><text x="17.75" y="26">P</text></g>
<g id="aa329" class="c" transform="translate(1122.46)"><rect width="35.5" height="38"/><text x="17.75" y="26">G</text></g>
<g id="aa330" class="c" transform="translate(1160.28)"><rect width="35.5" height="38"/><text x="17.75" y="26">P</text></g>
<g id="aa331" class="c" transform="translate(1198.1)"><rect width="35.5" height="38"/><text x="17.75" y="26">G</text></g>
<g id="aa332" class="c" transform="translate(1235.92)"><rect width="35.5" height="38"/><text x="17.75" y="26">T</text></g>
<g id="aa333" class="s" transform="translate(1273.74)"><rect width="35.5" height="38"/><text x="17.75" y="26">E</text></g>
<g id="aa334" class="s" transform="translate(1311.56)"><rect width="35.5" height="38"/><text x="17.75" y="26">I</text></g>
<g id="aa335" class="s" transform="translate(1349.38)"><rect width="35.5" height="38"/><text x="17.75" y="26">Q</text></g>
<g id="aa336" class="c" transform="translate(1387.2)"><rect width="35.5" height="38"/><text x="17.75" y="26">M</text></g>
<g id="aa337" class="c" transform="translate(1425.02)"><rect width="35.5" height="38"/><text x="17.75" y="26">S</text></g>
<g id="aa338" class="c" transform="translate(1462.84)"><rect width="35.5" height="38"/><text x="17.75" y="26">S</text></g>
<g id="aa339" class="c" transform="translate(1500.66)"><rect width="35.5" height="38"/><text x="17.75" y="26">G</text></g>
<g id="aa340" class="s" transform="translate(1538.48)"><rect width="35.5" height="38"/><text x="17.75" y="26">N</text></g>
<g id="aa341" class="s" transform="translate(1576.3)"><rect width="35.5" height="38"/><text x="17.75" y="26">L</text></g>
<g id="aa342" class="s" transform="translate(1614.12)"><rect width="35.5" height="38"/><text x="17.75" y="26">L</text></g>
<g id="aa343" class="s" transform="translate(1651.94)"><rect width="35.5" height="38"/><text x="17.75" y="26">F</text></g>
<g id="aa344" class="s" transform="translate(1689.76)"><rect width="35.5" height="38"/><text x="17.75" y="26">T</text></g>
<g id="aa345" class="s" transform="translate(1727.58)"><rect width="35.5" height="38"/><text x="17.75" y="26">G</text></g>
<g id="aa346" class="s" transform="translate(1765.4)"><rect width="35.5" height="38"/><text x="17.75" y="26">H</text></g>
<g id="aa347" class="c" transform="translate(1803.22)"><rect width="35.5" height="38"/><text x="17.75" y="26">K</text></g>
<g id="aa348" class="c" transform="translate(1841.04)"><rect width="35.5" height="38"/><text x="17.75" y="26">K</text></g>
<g id="aa349" class="c" transform="translate(1878.86)"><rect width="35.5" height="38"/><text x="17.75" y="26">V</text></g>
<g id="aa350" class="c" transform="translate(1916.68)"><rect width="35.5" height="38"/><text x="17.75" y="26">E</text></g>
</g>
<g id="row8" class="k" transform="translate(0,345.3)">
<g id="aa351" class="c" transform="translate(63.5)"><rect width="35.5" height="38"/><text x="17.75" y="26">P</text></g>
<g id="aa352" class="c" transform="translate(101.32)"><rect width="35.5" height="38"/><text x="17.75" y="26">G</text></g>
<g id="aa353" class="c" transform="translate(139.14)"><rect width="35.5" height="38"/><text x="17.75" y="26">Q</text></g>
<g id="aa354" class="s" transform="translate(176.96)"><rect width="35.5" height="38"/><text x="17.75" y="26">L</text></g>
<g id="aa355" class="s" transform="translate(214.78)"><rect width="35.5" height="38"/><text x="17.75" y="26">K</text></g>
<g id="aa356" class="s" transform="translate(252.6)"><rect width="35.5" height="38"/><text x="17.75" y="26">L</text></g>
<g id="aa357" class="h" transform="translate(290.42)"><rect width="35.5" height="38"/><text x="17.75" y="26">S</text></g>
<g id="aa358" class="h" transform="translate(328.24)"><rect width="35.5" height="38"/><text x="17.75" y="26">W</text></g>
<g id="aa359" class="h" transform="translate(366.06)"><rect width="35.5" height="38"/><text x="17.75" y="26">F</text></g>
<g id="aa360" class="c" transform="translate(403.88)"><rect width="35.5" height="38"/><text x="17.75" y="26">K</text></g>
<g id="aa361" class="c" transform="translate(441.7)"><rect width="35.5" height="38"/><text x="17.75" y="26">K</text></g>
<g id="aa362" class="c" transform="translate(479.52)"><rect width="35.5" height="38"/><text x="17.75" y="26">G</text></g>
<g id="aa363" class="c" transform="translate(517.34)"><rect width="35.5" height="38"/><text x="17.75" y="26">S</text></g>
<g id="aa364" class="c" transform="translate(555.16)"><rect width="35.5" height="38"/><text x="17.75" y="26">S</text></g>
<g id="aa365" class="c" transform="translate(592.98)"><rect width="35.5" height="38"/><text x="17.75" y="26">I</text></g>
<g id="aa366" class="c" transform="translate(630.8)"><rect width="35.5" height="38"/><text x="17.75" y="26">G</text></g>
<g id="aa367" class="c" transform="translate(668.62)"><rect width="35.5" height="38"/><text x="17.75" y="26">Q</text></g>
<g id="aa368" class="c" transform="translate(706.44)"><rect width="35.5" height="38"/><text x="17.75" y="26">M</text></g>
<g id="aa369" class="c" transform="translate(744.26)"><rect width="35.5" height="38"/><text x="17.75" y="26">K</text></g>
<g id="aa370" class="c" transform="translate(782.08)"><rect width="35.5" height="38"/><text x="17.75" y="26">K</text></g>
<g id="aa371" class="c" transform="translate(819.9)"><rect width="35.5" height="38"/><text x="17.75" y="26">P</text></g>
<g id="aa372" class="c" transform="translate(857.72)"><rect width="35.5" height="38"/><text x="17.75" y="26">L</text></g>
<g id="aa373" class="c" transform="translate(895.54)"><rect width="35.5" height="38"/><text x="17.75" y="26">P</text></g>
<g id="aa374" class="c" transform="translate(933.36)"><rect width="35.5" height="38"/><text x="17.75" y="26">W</text></g>
<g id="aa375" class="c" transform="translate(971.18)"><rect width="35.5" height="38"/><text x="17.75" y="26">L</text></g>
<g id="aa376" class="c" transform="translate(1009)"><rect width="35.5" height="38"/><text x="17.75" y="26">P</text></g>
<g id="aa377" class="c" transform="translate(1046.82)"><rect width="35.5" height="38"/><text x="17.75" y="26">G</text></g>
<g id="aa378" class="c" transform="translate(1084.64)"><rect width="35.5" height="38"/><text x="17.75" y="26">A</text></g>
<g id="aa379" class="c" transform="translate(1122.46)"><rect width="35.5" height="38"/><text x="17.75" y="26">D</text></g>
<g id="aa380" class="c" transform="translate(1160.28)"><rect width="35.5" height="38"/><text x="17.75" y="26">T</text></g>
<g id="aa381" class="c" transform="translate(1198.1)"><rect width="35.5" height="38"/><text x="17.75" y="26">Q</text></g>
<g id="aa382" class="c" transform="translate(1235.92)"><rect width="35.5" height="38"/><text x="17.75" y="26">G</text></g>
<g id="aa383" class="c" transform="translate(1273.74)"><rect width="35.5" height="38"/><text x="17.75" y="26">S</text></g>
<g id="aa384" class="c" transform="translate(1311.56)"><rect width="35.5" height="38"/><text x="17.75" y="26">N</text></g>
<g id="aa385" class="c" transform="translate(1349.38)"><rect width="35.5" height="38"/><text x="17.75" y="26">W</text></g>
<g id="aa386" class="s" transform="translate(1387.2)"><rect width="35.5" height="38"/><text x="17.75" y="26">I</text></g>
<g id="aa387" class="s" transform="translate(1425.02)"><rect width="35.5" height="38"/><text x="17.75" y="26">Q</text></g>
<g id="aa388" class="c" transform="translate(1462.84)"><rect width="35.5" height="38"/><text x="17.75" y="26">K</text></g>
<g id="aa389" class="c" transform="translate(1500.66)"><rect width="35.5" height="38"/><text x="17.75" y="26">E</text></g>
<g id="aa390" class="c" transform="translate(1538.48)"><rect width="35.5" height="38"/><text x="17.75" y="26">T</text></g>
<g id="aa391" class="c" transform="translate(1576.3)"><rect width="35.5" height="38"/><text x="17.75" y="26">K</text></g>
<g id="aa392" class="c" transform="translate(1614.12)"><rect width="35.5" height="38"/><text x="17.75" y="26">K</text></g>
<g id="aa393" class="c" transform="translate(1651.94)"><rect width="35.5" height="38"/><text x="17.75" y="26">E</text></g>
<g id="aa394" class="c" transform="translate(1689.76)"><rect width="35.5" height="38"/><text x="17.75" y="26">N</text></g>
<g id="aa395" class="c" transform="translate(1727.58)"><rect width="35.5" height="38"/><text x="17.75" y="26">A</text></g>
<g id="aa396" class="c" transform="translate(1765.4)"><rect width="35.5" height="38"/><text x="17.75" y="26">V</text></g>
<g id="aa397" class="c" transform="translate(1803.22)"><rect width="35.5" height="38"/><text x="17.75" y="26">G</text></g>
<g id="aa398" class="c" transform="translate(1841.04)"><rect width="35.5" height="38"/><text x="17.75" y="26">N</text></g>
<g id="aa399" class="c" transform="translate(1878.86)"><rect width="35.5" height="38"/><text x="17.75" y="26">D</text></g>
<g id="aa400" class="c" transform="translate(1916.68)"><rect width="35.5" height="38"/><text x="17.75" y="26">T</text></g>
</g>
<g id="row9" class="k" transform="translate(0,388.7)">
<g id="aa401" class="c" transform="translate(63.5)"><rect width="35.5" height="38"/><text x="17.75" y="26">G</text></g>
<g id="aa402" class="c" transform="translate(101.32)"><rect width="35.5" height="38"/><text x="17.75" y="26">K</text></g>
<g id="aa403" class="c" transform="translate(139.14)"><rect width="35.5" height="38"/><text x="17.75" y="26">H</text></g>
<g id="aa404" class="c" transform="translate(176.96)"><rect width="35.5" height="38"/><text x="17.75" y="26">G</text></g>
<g id="aa405" class="c" transform="translate(214.78)"><rect width="35.5" height="38"/><text x="17.75" y="26">K</text></g>
<g id="aa406" class="c" transform="translate(252.6)"><rect width="35.5" height="38"/><text x="17.75" y="26">E</text></g>
<g id="aa407" class="c" transform="translate(290.42)"><rect width="35.5" height="38"/><text x="17.75" y="26">I</text></g>
<g id="aa408" class="c" transform="translate(328.24)"><rect width="35.5" height="38"/><text x="17.75" y="26">K</text></g>
<g id="aa409" class="c" transform="translate(366.06)"><rect width="35.5" height="38"/><text x="17.75" y="26">V</text></g>
<g id="aa410" class="c" transform="translate(403.88)"><rect width="35.5" height="38"/><text x="17.75" y="26">T</text></g>
<g id="aa411" class="c" transform="translate(441.7)"><rect width="35.5" height="38"/><text x="17.75" y="26">P</text></g>
<g id="aa412" class="s" transform="translate(479.52)"><rect width="35.5" height="38"/><text x="17.75" y="26">K</text></g>
<g id="aa413" class="s" transform="translate(517.34)"><rect width="35.5" height="38"/><text x="17.75" y="26">K</text></g>
<g id="aa414" class="s" transform="translate(555.16)"><rect width="35.5" height="38"/><text x="17.75" y="26">F</text></g>
<g id="aa415" class="s" transform="translate(592.98)"><rect width="35.5" height="38"/><text x="17.75" y="26">T</text></g>
<g id="aa416" class="c" transform="translate(630.8)"><rect width="35.5" height="38"/><text x="17.75" y="26">C</text></g>
<g id="aa417" class="c" transform="translate(668.62)"><rect width="35.5" height="38"/><text x="17.75" y="26">K</text></g>
<g id="aa418" class="c" transform="translate(706.44)"><rect width="35.5" height="38"/><text x="17.75" y="26">K</text></g>
<g id="aa419" class="c" transform="translate(744.26)"><rect width="35.5" height="38"/><text x="17.75" y="26">N</text></g>
<g id="aa420" class="c" transform="translate(782.08)"><rect width="35.5" height="38"/><text x="17.75" y="26">M</text></g>
<g id="aa421" class="s" transform="translate(819.9)"><rect width="35.5" height="38"/><text x="17.75" y="26">E</text></g>
<g id="aa422" class="s" transform="translate(857.72)"><rect width="35.5" height="38"/><text x="17.75" y="26">G</text></g>
<g id="aa423" class="s" transform="translate(895.54)"><rect width="35.5" height="38"/><text x="17.75" y="26">K</text></g>
<g id="aa424" class="s" transform="translate(933.36)"><rect width="35.5" height="38"/><text x="17.75" y="26">I</text></g>
<g id="aa425" class="s" transform="translate(971.18)"><rect width="35.5" height="38"/><text x="17.75" y="26">V</text></g>
<g id="aa426" class="c" transform="translate(1009)"><rect width="35.5" height="38"/><text x="17.75" y="26">Q</text></g>
<g id="aa427" class="c" transform="translate(1046.82)"><rect width="35.5" height="38"/><text x="17.75" y="26">P</text></g>
<g id="aa428" class="h" transform="translate(1084.64)"><rect width="35.5" height="38"/><text x="17.75" y="26">E</text></g>
<g id="aa429" class="h" transform="translate(1122.46)"><rect width="35.5" height="38"/><text x="17.75" y="26">N</text></g>
<g id="aa430" class="s" transform="translate(1160.28)"><rect width="35.5" height="38"/><text x="17.75" y="26">L</text></g>
<g id="aa431" class="s" transform="translate(1198.1)"><rect width="35.5" height="38"/><text x="17.75" y="26">E</text></g>
<g id="aa432" class="s" transform="translate(1235.92)"><rect width="35.5" height="38"/><text x="17.75" y="26">Y</text></g>
<g id="aa433" class="s" transform="translate(1273.74)"><rect width="35.5" height="38"/><text x="17.75" y="26">T</text></g>
<g id="aa434" class="s" transform="translate(1311.56)"><rect width="35.5" height="38"/><text x="17.75" y="26">K</text></g>
<g id="aa435" class="s" transform="translate(1349.38)"><rect width="35.5" height="38"/><text x="17.75" y="26">K</text></g>
<g id="aa436" class="s" transform="translate(1387.2)"><rect width="35.5" height="38"/><text x="17.75" y="26">K</text></g>
<g id="aa437" class="s" transform="translate(1425.02)"><rect width="35.5" height="38"/><text x="17.75" y="26">N</text></g>
<g id="aa438" class="s" transform="translate(1462.84)"><rect width="35.5" height="38"/><text x="17.75" y="26">P</text></g>
<g id="aa439" class="c" transform="translate(1500.66)"><rect width="35.5" height="38"/><text x="17.75" y="26">H</text></g>
<g id="aa440" class="c" transform="translate(1538.48)"><rect width="35.5" height="38"/><text x="17.75" y="26">A</text></g>
<g id="aa441" class="c" transform="translate(1576.3)"><rect width="35.5" height="38"/><text x="17.75" y="26">K</text></g>
<g id="aa442" class="c" transform="translate(1614.12)"><rect width="35.5" height="38"/><text x="17.75" y="26">K</text></g>
<g id="aa443" class="s" transform="translate(1651.94)"><rect width="35.5" height="38"/><text x="17.75" y="26">Q</text></g>
<g id="aa444" class="s" transform="translate(1689.76)"><rect width="35.5" height="38"/><text x="17.75" y="26">D</text></g>
<g id="aa445" class="s" transform="translate(1727.58)"><rect width="35.5" height="38"/><text x="17.75" y="26">V</text></g>
<g id="aa446" class="s" transform="translate(1765.4)"><rect width="35.5" height="38"/><text x="17.75" y="26">V</text></g>
<g id="aa447" class="s" transform="translate(1803.22)"><rect width="35.5" height="38"/><text x="17.75" y="26">V</text></g>
<g id="aa448" class="s" transform="translate(1841.04)"><rect width="35.5" height="38"/><text x="17.75" y="26">L</text></g>
<g id="aa449" class="c" transform="translate(1878.86)"><rect width="35.5" height="38"/><text x="17.75" y="26">G</text></g>
<g id="aa450" class="c" transform="translate(1916.68)"><rect width="35.5" height="38"/><text x="17.75" y="26">S</text></g>
</g>
<g id="row10" class="k" transform="translate(0,432.1)">
<g id="aa451" class="h" transform="translate(63.5)"><rect width="35.5" height="38"/><text x="17.75" y="26">Q</text></g>
<g id="aa452" class="h" transform="translate(101.32)"><rect width="35.5" height="38"/><text x="17.75" y="26">E</text></g>
<g id="aa453" class="h" transform="translate(139.14)"><rect width="35.5" height="38"/><text x="17.75" y="26">G</text></g>
<g id="aa454" class="h" transform="translate(176.96)"><rect width="35.5" height="38"/><text x="17.75" y="26">A</text></g>
<g id="aa455" class="h" transform="translate(214.78)"><rect width="35.5" height="38"/><text x="17.75" y="26">M</text></g>
<g id="aa456" class="h" transform="translate(252.6)"><rect width="35.5" height="38"/><text x="17.75" y="26">E</text></g>
<g id="aa457" class="h" transform="translate(290.42)"><rect width="35.5" height="38"/><text x="17.75" y="26">A</text></g>
<g id="aa458" class="h" transform="translate(328.24)"><rect width="35.5" height="38"/><text x="17.75" y="26">A</text></g>
<g id="aa459" class="h" transform="translate(366.06)"><rect width="35.5" height="38"/><text x="17.75" y="26">A</text></g>
<g id="aa460" class="c" transform="translate(403.88)"><rect width="35.5" height="38"/><text x="17.75" y="26">K</text></g>
</g>
<g id="legend">
<g id="lg-strand"><rect x="64" y="584" width="33" height="33" fill="#FFD700"/><text class="lg" x="105" y="608">Strand</text></g>
<g id="lg-helix"><rect x="461" y="584" width="33" height="33" fill="#FF69B4"/><text class="lg" x="505" y="608">Helix</text></g>
<g id="lg-coil"><rect x="860" y="584" width="33" height="33" fill="#D3D3D3"/><text class="lg" x="901" y="608">Coil</text></g>
<g id="lg-disordered"><rect x="1257" y="583" width="35" height="36" fill="#fff" stroke="#0000FF" stroke-width="2"/><text class="lg" x="1299" y="608">Disordered</text></g>
<g id="lg-dpb"><rect x="64" y="634" width="35" height="36" fill="#fff" stroke="#228B22" stroke-width="2"/><text class="lg" x="105" y="660">Disordered, protein binding</text></g>
<g id="lg-pdb"><rect x="461" y="636" width="33" height="33" fill="#7FBFD1"/><text class="lg" x="505" y="660">Putative Domain Boundary</text></g>
<g id="lg-mi"><rect x="860" y="636" width="33" height="33" fill="#A9A9A9"/><text class="lg" x="901" y="660">Membrane Interaction</text></g>
<g id="lg-tmh"><rect x="1257" y="636" width="33" height="33" fill="#A9A9A9"/><text class="lg" x="1299" y="660">Transmembrane Helix</text></g>
<g id="lg-extra"><rect x="64" y="687" width="33" height="33" fill="#FFA500"/><text class="lg" x="105" y="711">Extracellular</text></g>
<g id="lg-reh"><rect x="461" y="687" width="33" height="33" fill="#008000"/><text class="lg" x="505" y="711">Re-entrant Helix</text></g>
<g id="lg-cyto"><text class="lg" x="901" y="711">Cytoplasmic</text></g>
<g id="lg-sp"><rect x="1257" y="687" width="33" height="33" fill="#FFC0CB"/><text class="lg" x="1299" y="711">Signal Peptide</text></g>
</g>
</svg>
